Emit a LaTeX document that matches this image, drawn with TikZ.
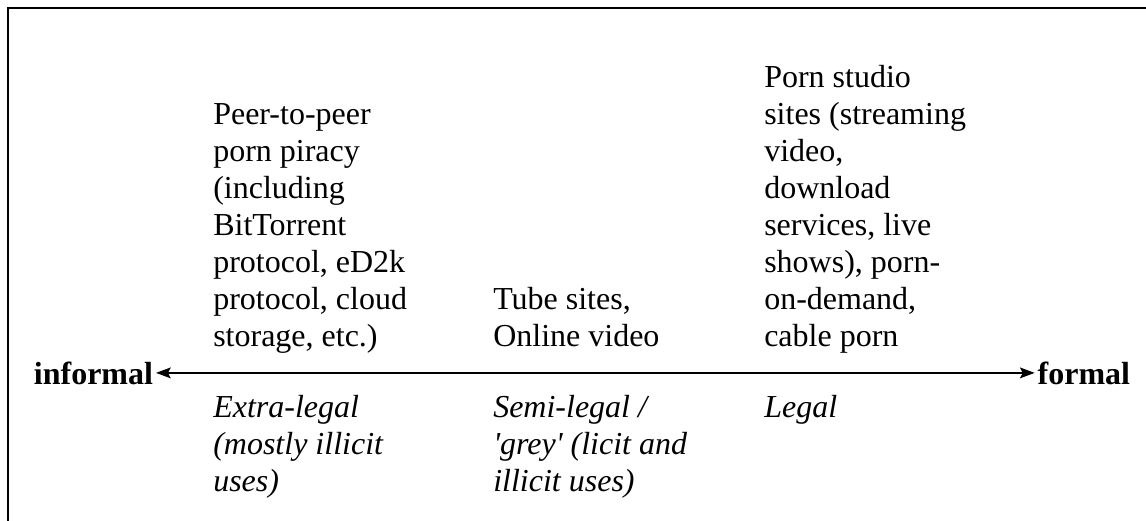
\documentclass[tikz,border=0pt]{standalone}
\usepackage{fontspec}
\setmainfont{Liberation Serif}[Ligatures=TeXOff]
\usetikzlibrary{arrows.meta,positioning}

\begin{document}
\begin{tikzpicture}[x=0.75pt, y=-0.75pt, txt/.style={align=left, inner sep=0pt, anchor=base west, font=\fontsize{24}{27.75}\selectfont}, kind/.style={txt, font=\fontsize{24}{27.75}\selectfont\itshape}, pole/.style={inner xsep=2pt, inner ysep=0pt, font=\fontsize{24}{27.75}\selectfont\bfseries}, >={Stealth[length=11pt, width=8pt, inset=2pt]}]
\useasboundingbox (0,0) rectangle (1146,521);
\draw[line width=1.5pt] (8,521) -- (8,8) -- (1146,8);
% top row, bottom lines share one baseline
\node[txt] (p2p) at (213,346) {Peer-to-peer\\ porn piracy\\ (including\\ BitTorrent\\ protocol, eD2k\\ protocol, cloud\\ storage, etc.)};
\node[txt] (tube) at (493,346) {Tube sites,\\ Online video};
\node[txt] (studio) at (764,346) {Porn studio\\ sites (streaming\\ video,\\ download\\ services, live\\ shows), porn-\\ on-demand,\\ cable porn};
\node[pole, anchor=base west] (informal) at (31,384) {informal};
\node[pole, anchor=base east] (formal) at (1133,384) {formal};
% legal status row
\node[kind] (extra) at (213,491) {Extra-legal\\ (mostly illicit\\ uses)};
\node[kind] (semi) at (493,491) {Semi-legal /\\ 'grey' (licit and\\ illicit uses)};
\node[kind] (legal) at (764,417) {Legal};
\draw[<->, line width=1.5pt] (informal) -- (formal);
\end{tikzpicture}
\end{document}
